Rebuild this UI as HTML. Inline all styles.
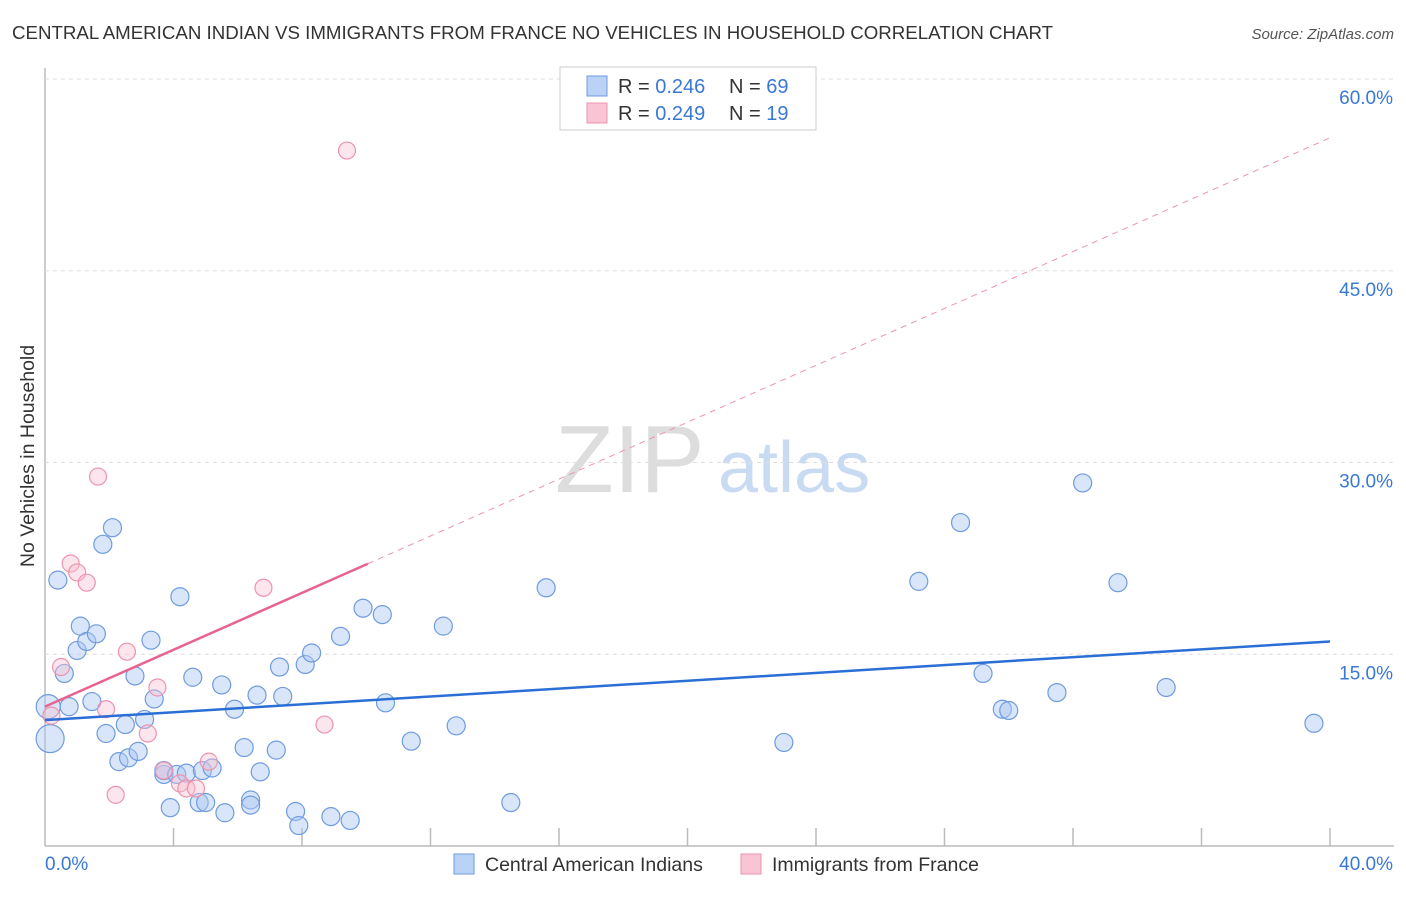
<!DOCTYPE html>
<html><head><meta charset="utf-8"><style>
body{margin:0;background:#fff;font-family:"Liberation Sans",sans-serif;}
svg text{font-family:"Liberation Sans",sans-serif;}
</style></head><body>
<svg id="chart" width="1406" height="892" xmlns="http://www.w3.org/2000/svg">
<text x="12" y="39" font-size="18.7" fill="#333">CENTRAL AMERICAN INDIAN VS IMMIGRANTS FROM FRANCE NO VEHICLES IN HOUSEHOLD CORRELATION CHART</text>
<text x="1394" y="39" font-size="15" fill="#555" font-style="italic" text-anchor="end">Source: ZipAtlas.com</text>
<text x="34" y="456" font-size="19.5" fill="#333" transform="rotate(-90 34 456)" text-anchor="middle">No Vehicles in Household</text>
<g><text x="555" y="492" font-size="96" fill="#ddd" font-family="Liberation Serif, serif">ZIP</text><text x="718" y="492" font-size="72" fill="#c9daf3">atlas</text></g>
<g id="grid"></g><g id="marks"></g><g id="lines"></g>
<g>
<rect x="560" y="67" width="256" height="63" fill="#fff" stroke="#ccc"/>
<rect x="587" y="76" width="20" height="20" fill="#b9d2f5" stroke="#6f9be0"/>
<rect x="587" y="103" width="20" height="20" fill="#f9c5d4" stroke="#ec94ae"/>
<text x="618" y="93" font-size="20" fill="#333">R = <tspan fill="#3a78d6">0.246</tspan></text>
<text x="729" y="93" font-size="20" fill="#333">N = <tspan fill="#3a78d6">69</tspan></text>
<text x="618" y="120" font-size="20" fill="#333">R = <tspan fill="#3a78d6">0.249</tspan></text>
<text x="729" y="120" font-size="20" fill="#333">N =  <tspan fill="#3a78d6">19</tspan></text>
</g>
<g>
<rect x="454" y="854" width="20" height="20" fill="#b9d2f5" stroke="#6f9be0"/>
<text x="485" y="871" font-size="19.5" fill="#333">Central American Indians</text>
<rect x="741" y="854" width="20" height="20" fill="#f9c5d4" stroke="#ec94ae"/>
<text x="772" y="871" font-size="19.5" fill="#333">Immigrants from France</text>
</g>
<text x="45" y="870" font-size="19" fill="#3a78d6">0.0%</text>
<text x="1393" y="870" font-size="19" fill="#3a78d6" text-anchor="end">40.0%</text>
</svg>
<script>
const yTicks=[15,30,45,60];
const yTickLabels=["15.0%","30.0%","45.0%","60.0%"];
const blueX=[0.16,0.1,0.4,0.6,0.75,1.1,1.0,1.3,1.6,1.46,1.8,2.1,1.9,2.3,2.5,2.6,2.9,2.8,3.1,3.3,3.4,3.7,3.7,3.9,4.1,4.2,4.4,4.6,4.8,5.0,4.9,5.2,5.5,5.6,5.9,6.2,6.4,6.4,6.6,6.7,7.2,7.3,7.4,7.8,7.9,8.1,8.3,8.9,9.2,9.5,9.9,10.5,10.6,11.4,12.4,12.8,14.5,15.6,23.0,27.2,28.5,29.2,29.8,30.0,31.5,32.3,33.4,34.9,39.5];
const blueY=[8.4,10.9,20.8,13.5,10.9,17.2,15.3,16.0,16.6,11.3,23.6,24.9,8.8,6.6,9.5,6.9,7.4,13.3,9.9,16.1,11.5,5.6,5.9,3.0,5.6,19.5,5.7,13.2,3.4,3.4,5.9,6.1,12.6,2.6,10.7,7.7,3.6,3.2,11.8,5.8,7.5,14.0,11.7,2.7,1.6,14.2,15.1,2.3,16.4,2.0,18.6,18.1,11.2,8.2,17.2,9.4,3.4,20.2,8.1,20.7,25.3,13.5,10.7,10.6,12.0,28.4,20.6,12.4,9.6];
const pinkX=[9.4,1.65,0.8,1.0,1.3,6.8,0.5,2.55,3.5,1.9,3.2,0.2,8.7,5.1,3.7,4.2,4.4,4.7,2.2];
const pinkY=[54.4,28.9,22.1,21.4,20.6,20.2,14.0,15.2,12.4,10.7,8.8,10.2,9.5,6.6,5.9,4.9,4.5,4.5,4.0];
const blueTrend=[9.85,16.0];
const pinkTrend=[10.9,55.4];
const pinkSolidEnd=10.05;
const NS="http://www.w3.org/2000/svg";
const sx=v=>45+v/40*1285, sy=v=>846-v/60*767;
function mk(t,a,p){const e=document.createElementNS(NS,t);for(const k in a)e.setAttribute(k,a[k]);p.appendChild(e);return e;}
const grid=document.getElementById('grid'),marks=document.getElementById('marks'),lines=document.getElementById('lines');
const ax=mk('line',{x1:45,y1:68,x2:45,y2:846,stroke:'#bbb','stroke-width':1.5},grid);


const bx=mk('line',{x1:45,y1:846,x2:1394,y2:846,stroke:'#bbb','stroke-width':1.5},grid);


for(let i=1;i<=10;i++){const t=mk('line',{x1:sx(i*4),y1:828,x2:sx(i*4),y2:846,stroke:'#bbb','stroke-width':1.5},grid);

}
yTicks.forEach((v,i)=>{const g=mk('line',{x1:45,y1:sy(v),x2:1394,y2:sy(v),stroke:'#ddd','stroke-dasharray':'4,4'},grid);


const t=mk('text',{x:1393,y:sy(v)+25,'font-size':19,fill:'#3a78d6','text-anchor':'end'},grid);t.textContent=yTickLabels[i];

});
blueX.forEach((x,i)=>{const r=i==0?14:(i==1?12:9);const c=mk('circle',{cx:sx(x),cy:sy(blueY[i]),r:r,fill:'rgba(170,200,242,0.45)',stroke:'#6f9be0','stroke-width':1.2},marks);

});
pinkX.forEach((x,i)=>{const c=mk('circle',{cx:sx(x),cy:sy(pinkY[i]),r:8.5,fill:'rgba(248,190,208,0.4)',stroke:'#ec94ae','stroke-width':1.2},marks);

});
const bl=mk('line',{x1:sx(0),y1:sy(blueTrend[0]),x2:sx(40),y2:sy(blueTrend[1]),stroke:'#2a6fd6','stroke-width':2.5},lines);


const pe=pinkTrend[0]+(pinkTrend[1]-pinkTrend[0])*pinkSolidEnd/40;
const pd=mk('line',{x1:sx(pinkSolidEnd),y1:sy(pe),x2:sx(40),y2:sy(pinkTrend[1]),stroke:'#ec94ae','stroke-width':1,'stroke-dasharray':'6,5'},lines);


const ps=mk('line',{x1:sx(0),y1:sy(pinkTrend[0]),x2:sx(pinkSolidEnd),y2:sy(pe),stroke:'#e8648e','stroke-width':2.5},lines);


</script>
</body></html>
